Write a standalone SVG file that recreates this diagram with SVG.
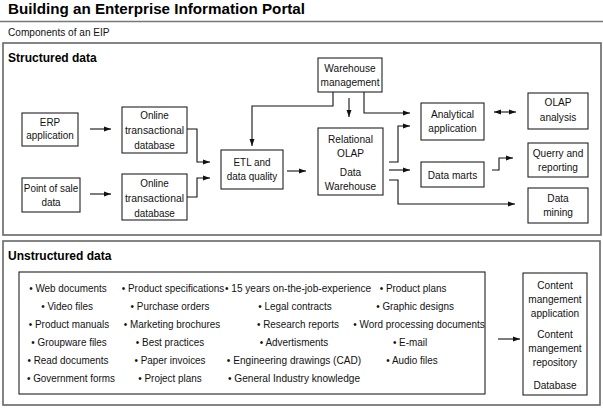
<svg xmlns="http://www.w3.org/2000/svg" width="603" height="408" viewBox="0 0 603 408">
<style>
.t{font-family:"Liberation Sans",Arial,sans-serif;font-size:11px;fill:#111;text-anchor:middle}
.l{font-family:"Liberation Sans",Arial,sans-serif;font-size:11px;fill:#111}
.h{font-family:"Liberation Sans",Arial,sans-serif;font-weight:bold;fill:#000}
.n{fill:#fff;stroke:#222;stroke-width:1.1}
.o{fill:none;stroke:#666;stroke-width:1.6}
.c{fill:none;stroke:#111;stroke-width:1.1}
</style>
<defs>
<marker id="a" markerUnits="userSpaceOnUse" markerWidth="8" markerHeight="6" refX="7" refY="3" orient="auto"><path d="M0,0.5 L7,3 L0,5.5 z" fill="#111"/></marker>
<marker id="b" markerUnits="userSpaceOnUse" markerWidth="8" markerHeight="6" refX="0" refY="3" orient="auto"><path d="M7,0.5 L0,3 L7,5.5 z" fill="#111"/></marker>
</defs>
<rect width="603" height="408" fill="#fff"/>
<g id="header">
<text class="h" x="8" y="14" font-size="15.2">Building an Enterprise Information Portal</text>
<line x1="0" y1="21.5" x2="603" y2="21.5" stroke="#777" stroke-width="1.6"/>
<text class="l" transform="translate(8 36) scale(0.92 1)">Components of an EIP</text>
</g>
<g id="structured">
<rect class="o" x="3" y="43" width="598" height="192"/>
<text class="h" x="8" y="62" font-size="12">Structured data</text>
</g>
<g id="unstructured">
<rect class="o" x="3" y="241" width="597" height="164"/>
<text class="h" x="8" y="260" font-size="12">Unstructured data</text>
</g>
<g id="connectors">
<path class="c" d="M90,129 H111" marker-end="url(#a)"/>
<path class="c" d="M90,194 H111" marker-end="url(#a)"/>
<path class="c" d="M187,129 H197 V162 H210" marker-end="url(#a)"/>
<path class="c" d="M187,197 H197 V178 H210" marker-end="url(#a)"/>
<path class="c" d="M287,171 H306" marker-end="url(#a)"/>
<path class="c" d="M333,92 V106 H252 V146" marker-end="url(#a)"/>
<path class="c" d="M349,98 V117" marker-end="url(#a)"/>
<path class="c" d="M364,92 V113 H410" marker-end="url(#a)"/>
<path class="c" d="M389,162 H398 V126 H410" marker-end="url(#a)"/>
<path class="c" d="M389,170 H410" marker-end="url(#a)"/>
<path class="c" d="M389,180 H398 V204 H515" marker-end="url(#a)"/>
<path class="c" d="M492,170 H499 V158 H513" marker-end="url(#a)"/>
<path class="c" d="M494,112 H516" marker-start="url(#b)" marker-end="url(#a)"/>
<path class="c" d="M498,339 H520" marker-end="url(#a)"/>
</g>
<g id="erp">
<rect class="n" x="22" y="113" width="56" height="33"/>
<text class="t" transform="translate(50 126) scale(0.9 1)">ERP</text>
<text class="t" transform="translate(50 139) scale(0.9 1)">application</text>
</g>
<g id="pos">
<rect class="n" x="22" y="178" width="58" height="34"/>
<text class="t" transform="translate(51 192) scale(0.9 1)">Point of sale</text>
<text class="t" transform="translate(51 206) scale(0.9 1)">data</text>
</g>
<g id="otd1">
<rect class="n" x="122" y="107" width="65" height="46"/>
<text class="t" transform="translate(154.5 119) scale(0.9 1)">Online</text>
<text class="t" transform="translate(154.5 134) scale(0.95 1)">transactional</text>
<text class="t" transform="translate(154.5 149) scale(0.9 1)">database</text>
</g>
<g id="otd2">
<rect class="n" x="122" y="174" width="65" height="46"/>
<text class="t" transform="translate(154.5 187) scale(0.9 1)">Online</text>
<text class="t" transform="translate(154.5 202) scale(0.95 1)">transactional</text>
<text class="t" transform="translate(154.5 217) scale(0.9 1)">database</text>
</g>
<g id="etl">
<rect class="n" x="221" y="150" width="62" height="39"/>
<text class="t" transform="translate(252 166) scale(0.9 1)">ETL and</text>
<text class="t" transform="translate(252 180) scale(0.9 1)">data quality</text>
</g>
<g id="warehouse-management">
<rect class="n" x="318" y="58" width="64" height="34"/>
<text class="t" transform="translate(350 72) scale(0.92 1)">Warehouse</text>
<text class="t" transform="translate(350 86) scale(0.92 1)">management</text>
</g>
<g id="rolap">
<rect class="n" x="318" y="128" width="65" height="67"/>
<text class="t" transform="translate(350.5 143) scale(0.92 1)">Relational</text>
<text class="t" transform="translate(350.5 157) scale(0.92 1)">OLAP</text>
<text class="t" transform="translate(350.5 176) scale(0.92 1)">Data</text>
<text class="t" transform="translate(350.5 190) scale(0.92 1)">Warehouse</text>
</g>
<g id="analytical">
<rect class="n" x="421" y="103" width="63" height="37"/>
<text class="t" transform="translate(452.5 118) scale(0.92 1)">Analytical</text>
<text class="t" transform="translate(452.5 132) scale(0.92 1)">application</text>
</g>
<g id="data-marts">
<rect class="n" x="421" y="162" width="63" height="25"/>
<text class="t" transform="translate(452.5 179) scale(0.92 1)">Data marts</text>
</g>
<g id="olap-analysis">
<rect class="n" x="528" y="93" width="60" height="36"/>
<text class="t" transform="translate(558 106) scale(0.92 1)">OLAP</text>
<text class="t" transform="translate(558 121) scale(0.92 1)">analysis</text>
</g>
<g id="query">
<rect class="n" x="528" y="143" width="60" height="34"/>
<text class="t" transform="translate(558 157) scale(0.92 1)">Querry and</text>
<text class="t" transform="translate(558 171) scale(0.92 1)">reporting</text>
</g>
<g id="data-mining">
<rect class="n" x="528" y="188" width="60" height="35"/>
<text class="t" transform="translate(558 202) scale(0.92 1)">Data</text>
<text class="t" transform="translate(558 216) scale(0.92 1)">mining</text>
</g>
<g id="list">
<rect class="n" x="19" y="272" width="466" height="122"/>
<text class="t" transform="translate(68 292) scale(0.9 1)">• Web documents</text>
<text class="t" transform="translate(67 310) scale(0.9 1)">• Video files</text>
<text class="t" transform="translate(69 328) scale(0.9 1)">• Product manuals</text>
<text class="t" transform="translate(69 346) scale(0.9 1)">• Groupware files</text>
<text class="t" transform="translate(68 364) scale(0.9 1)">• Read documents</text>
<text class="t" transform="translate(71 382) scale(0.9 1)">• Government forms</text>
<text class="t" transform="translate(173 292) scale(0.9 1)">• Product specifications</text>
<text class="t" transform="translate(170 310) scale(0.9 1)">• Purchase orders</text>
<text class="t" transform="translate(172 328) scale(0.9 1)">• Marketing brochures</text>
<text class="t" transform="translate(170 346) scale(0.9 1)">• Best practices</text>
<text class="t" transform="translate(170 364) scale(0.9 1)">• Paper invoices</text>
<text class="t" transform="translate(170 382) scale(0.9 1)">• Project plans</text>
<text class="t" transform="translate(298 292) scale(0.92 1)">• 15 years on-the-job-experience</text>
<text class="t" transform="translate(295 310) scale(0.9 1)">• Legal contracts</text>
<text class="t" transform="translate(298 328) scale(0.9 1)">• Research reports</text>
<text class="t" transform="translate(294 346) scale(0.9 1)">• Advertisments</text>
<text class="t" transform="translate(294 364) scale(0.92 1)">• Engineering drawings (CAD)</text>
<text class="t" transform="translate(294 382) scale(0.92 1)">• General Industry knowledge</text>
<text class="t" transform="translate(413 292) scale(0.9 1)">• Product plans</text>
<text class="t" transform="translate(415 310) scale(0.9 1)">• Graphic designs</text>
<text class="t" transform="translate(419 328) scale(0.9 1)">• Word processing documents</text>
<text class="t" transform="translate(410 346) scale(0.9 1)">• E-mail</text>
<text class="t" transform="translate(412 364) scale(0.9 1)">• Audio files</text>
</g>
<g id="content">
<rect class="n" x="523" y="273" width="64" height="122"/>
<text class="t" transform="translate(555 289) scale(0.92 1)">Content</text>
<text class="t" transform="translate(555 303) scale(0.92 1)">mangement</text>
<text class="t" transform="translate(555 317) scale(0.92 1)">application</text>
<text class="t" transform="translate(555 338) scale(0.92 1)">Content</text>
<text class="t" transform="translate(555 352) scale(0.92 1)">mangement</text>
<text class="t" transform="translate(555 366) scale(0.92 1)">repository</text>
<text class="t" transform="translate(555 389) scale(0.92 1)">Database</text>
</g>
</svg>
